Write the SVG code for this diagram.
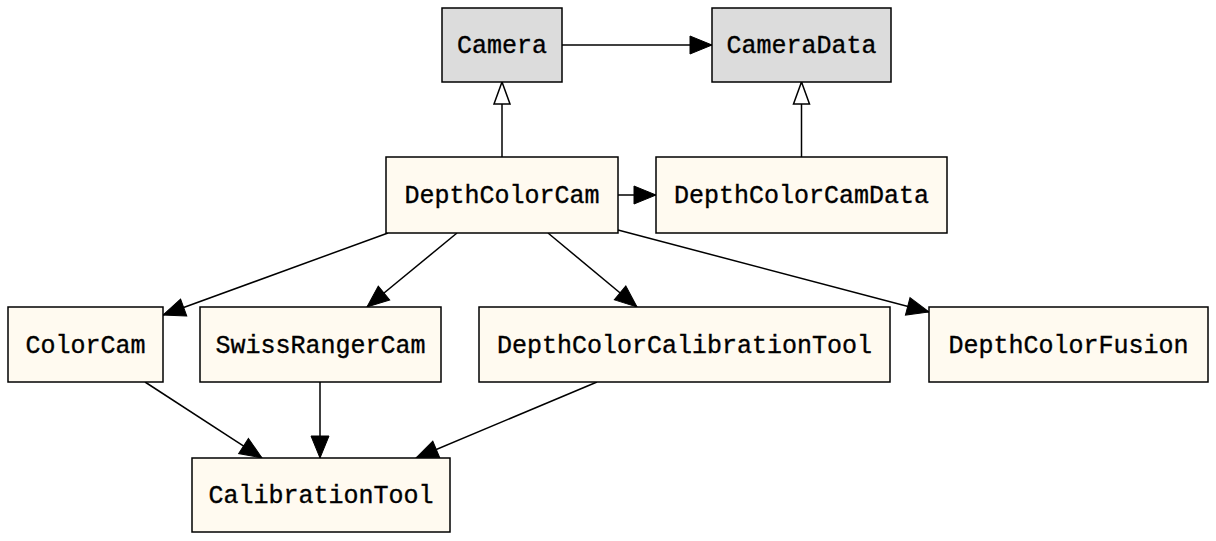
<svg xmlns="http://www.w3.org/2000/svg" width="1216" height="541" viewBox="0 0 1216 541">
<style>
.n rect{stroke:#000;stroke-width:1.5}
.g rect{fill:#dcdcdc}
.f rect{fill:#fffaf0}
text{font-family:"Liberation Mono","Courier New",monospace;font-size:25px;text-anchor:middle;dominant-baseline:central;fill:#000;stroke:#000;stroke-width:0.35}
.e path{fill:none;stroke:#000;stroke-width:1.5}
</style>
<defs>
<marker id="a" markerUnits="userSpaceOnUse" markerWidth="24" markerHeight="20" refX="22" refY="9" orient="auto" overflow="visible">
<path d="M0,0 L22,9 L0,18 Z" fill="#000" stroke="#000" stroke-width="1"/>
</marker>
<marker id="h" markerUnits="userSpaceOnUse" markerWidth="24" markerHeight="20" refX="22" refY="8" orient="auto" overflow="visible">
<path d="M0,0 L22,8 L0,16 Z" fill="#fff" stroke="#000" stroke-width="1.5"/>
</marker>
</defs>
<rect width="1216" height="541" fill="#fff"/>
<g class="e" id="edges">
<path d="M562,45 L712,45" marker-end="url(#a)"/>
<path d="M502,157 L502,82" marker-end="url(#h)"/>
<path d="M801.5,157 L801.5,82" marker-end="url(#h)"/>
<path d="M618,195 L656,195" marker-end="url(#a)"/>
<path d="M388,233 L163,315" marker-end="url(#a)"/>
<path d="M457,233 L367,307" marker-end="url(#a)"/>
<path d="M548,233 L637,307" marker-end="url(#a)"/>
<path d="M618,230 L929,312" marker-end="url(#a)"/>
<path d="M145,382 L262,458" marker-end="url(#a)"/>
<path d="M320,382 L320,458" marker-end="url(#a)"/>
<path d="M597,382 L416,458" marker-end="url(#a)"/>
</g>
<g id="Camera" class="n g"><rect x="442" y="8" width="120" height="74"/><text x="502" y="46">Camera</text></g>
<g id="CameraData" class="n g"><rect x="712" y="8" width="179" height="74"/><text x="801.5" y="46">CameraData</text></g>
<g id="DepthColorCam" class="n f"><rect x="386" y="157" width="232" height="76"/><text x="502" y="196">DepthColorCam</text></g>
<g id="DepthColorCamData" class="n f"><rect x="656" y="157" width="291" height="76"/><text x="801.5" y="196">DepthColorCamData</text></g>
<g id="ColorCam" class="n f"><rect x="8" y="307" width="155" height="75"/><text x="85.5" y="346">ColorCam</text></g>
<g id="SwissRangerCam" class="n f"><rect x="200" y="307" width="241" height="75"/><text x="320.5" y="346">SwissRangerCam</text></g>
<g id="DepthColorCalibrationTool" class="n f"><rect x="479" y="307" width="411" height="75"/><text x="684.5" y="346">DepthColorCalibrationTool</text></g>
<g id="DepthColorFusion" class="n f"><rect x="929" y="307" width="279" height="75"/><text x="1068.5" y="346">DepthColorFusion</text></g>
<g id="CalibrationTool" class="n f"><rect x="192" y="458" width="258" height="74"/><text x="321" y="496">CalibrationTool</text></g>
</svg>
